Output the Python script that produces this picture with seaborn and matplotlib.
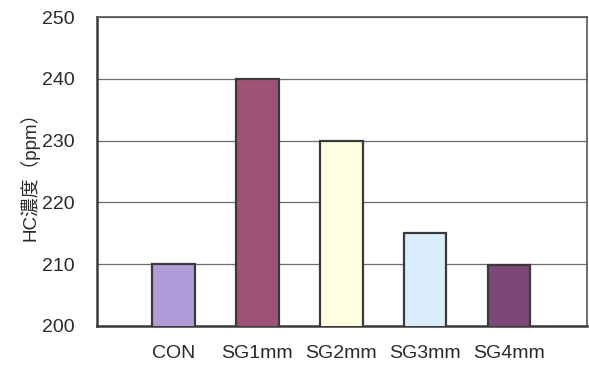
import matplotlib
matplotlib.use("Agg")
import matplotlib.pyplot as plt
import seaborn as sns
import pandas as pd

categories = ["CON", "SG1mm", "SG2mm", "SG3mm", "SG4mm"]
hc_ppm = [210, 240, 230, 215, 209.8]
bar_colors = ["#b09cd8", "#a05276", "#ffffe2", "#d9edfb", "#7c4878"]

sns.set_theme(style="white")
plt.rcParams["font.family"] = ["Liberation Sans", "Noto Sans CJK JP"]

df = pd.DataFrame({"cat": categories, "hc": hc_ppm})

fig = plt.figure(figsize=(5.89, 3.65), dpi=100)
ax = fig.add_axes([97 / 589, 1 - 326 / 365, 490 / 589, 309 / 365])

sns.barplot(data=df, x="cat", y="hc", hue="cat", palette=bar_colors,
            saturation=1, width=0.51, edgecolor="#3a3a3a", linewidth=1.6,
            legend=False, ax=ax, zorder=3)

ax.set_ylim(200, 250)
ax.set_xlim(-0.91, 4.93)
ax.set_yticks([200, 210, 220, 230, 240, 250])
ax.yaxis.grid(True, color="#6e6e6e", linewidth=0.9, zorder=0)
ax.set_axisbelow(True)

for side in ["left", "bottom"]:
    ax.spines[side].set_color("#3a3a3a")
    ax.spines[side].set_linewidth(1.8)
for side in ["top", "right"]:
    ax.spines[side].set_color("#555555")
    ax.spines[side].set_linewidth(1.2)

ax.tick_params(axis="y", length=0, pad=16, labelsize=14, colors="#2a2a2a")
ax.tick_params(axis="x", length=0, pad=14, labelsize=14, colors="#2a2a2a")
ax.set_xlabel("")
ax.set_ylabel("HC濃度（ppm）", fontsize=13.5, color="#2a2a2a", labelpad=2)

fig.savefig("out.png", dpi=100)
